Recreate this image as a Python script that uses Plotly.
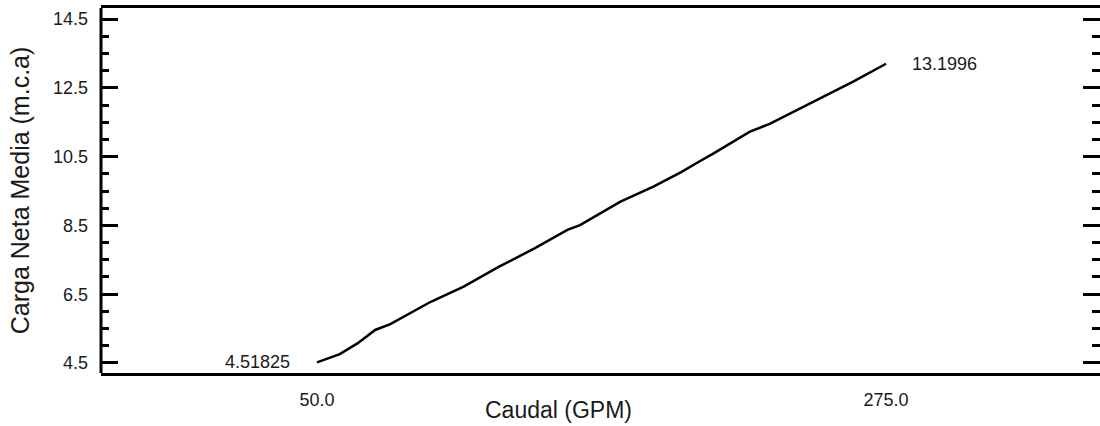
import plotly.graph_objects as go

# Caudal (GPM) vs carga neta media (m.c.a)
caudal = [50, 59, 66, 73, 79, 95, 108, 122, 136, 149, 154, 170, 183, 194,
          201, 207, 221, 229, 245, 250, 262, 275]
carga = [4.51825, 4.76, 5.07, 5.46, 5.63, 6.28, 6.72, 7.30, 7.83, 8.37, 8.51,
         9.19, 9.63, 10.05, 10.35, 10.60, 11.22, 11.45, 12.05, 12.24, 12.68, 13.1996]

x_ticks = [50, 275]
x_tick_text = ["50.0", "275.0"]
y_ticks = [4.5, 6.5, 8.5, 10.5, 12.5, 14.5]
y_tick_text = ["4.5", "6.5", "8.5", "10.5", "12.5", "14.5"]

FONT = "Liberation Sans, Arial, sans-serif"
TXT = "#1a1a1a"

fig = go.Figure()
fig.add_trace(go.Scatter(
    x=caudal, y=carga, mode="lines",
    line=dict(color="black", width=2.5),
    hoverinfo="skip", showlegend=False,
))

# End-point value labels
fig.add_annotation(x=caudal[0], y=carga[0], text=f"{carga[0]:g}",
                   showarrow=False, xanchor="right", yanchor="middle",
                   xshift=-25, yshift=0, font=dict(family=FONT, size=18, color=TXT))
fig.add_annotation(x=caudal[-1], y=carga[-1], text=f"{carga[-1]:g}",
                   showarrow=False, xanchor="left", yanchor="middle",
                   xshift=24, yshift=0, font=dict(family=FONT, size=18, color=TXT))

# X-axis title, placed slightly left of the plot centre
fig.add_annotation(text="Caudal (GPM)", xref="paper", yref="paper",
                   x=0.4575, y=-0.101, xanchor="center", yanchor="middle",
                   showarrow=False, font=dict(family=FONT, size=23, color=TXT))

# Left frame edge (the right edge carries only ticks)
fig.add_shape(type="line", xref="paper", yref="paper", x0=0, x1=0, y0=0, y1=1,
              line=dict(color="black", width=3))

fig.update_layout(
    width=1100, height=426,
    margin=dict(l=101, r=0, t=8, b=53, autoexpand=False),
    paper_bgcolor="white", plot_bgcolor="white",
    font=dict(family=FONT, color=TXT),
    showlegend=False,
)

fig.update_xaxes(
    range=[-35.4, 359.6], automargin=False,
    tickmode="array", tickvals=x_ticks, ticktext=x_tick_text,
    ticks="", showgrid=False, zeroline=False,
    showline=True, linecolor="black", linewidth=3, mirror=True,
    tickfont=dict(family=FONT, size=18, color=TXT),
    ticklabelstandoff=8,
)

fig.update_yaxes(
    range=[4.209, 14.82], automargin=False,
    tickmode="array", tickvals=y_ticks, ticktext=y_tick_text,
    ticks="inside", ticklen=17, tickwidth=3, tickcolor="black",
    minor=dict(tickmode="linear", tick0=4.5, dtick=0.5, ticks="inside",
               ticklen=8, tickwidth=3, tickcolor="black", showgrid=False),
    showgrid=False, zeroline=False,
    showline=False, mirror="allticks",
    tickfont=dict(family=FONT, size=18, color=TXT),
    ticklabelstandoff=12,
    title=dict(text="Carga Neta Media (m.c.a)", font=dict(family=FONT, size=25, color=TXT), standoff=16),
)

fig.write_html("out.html")
